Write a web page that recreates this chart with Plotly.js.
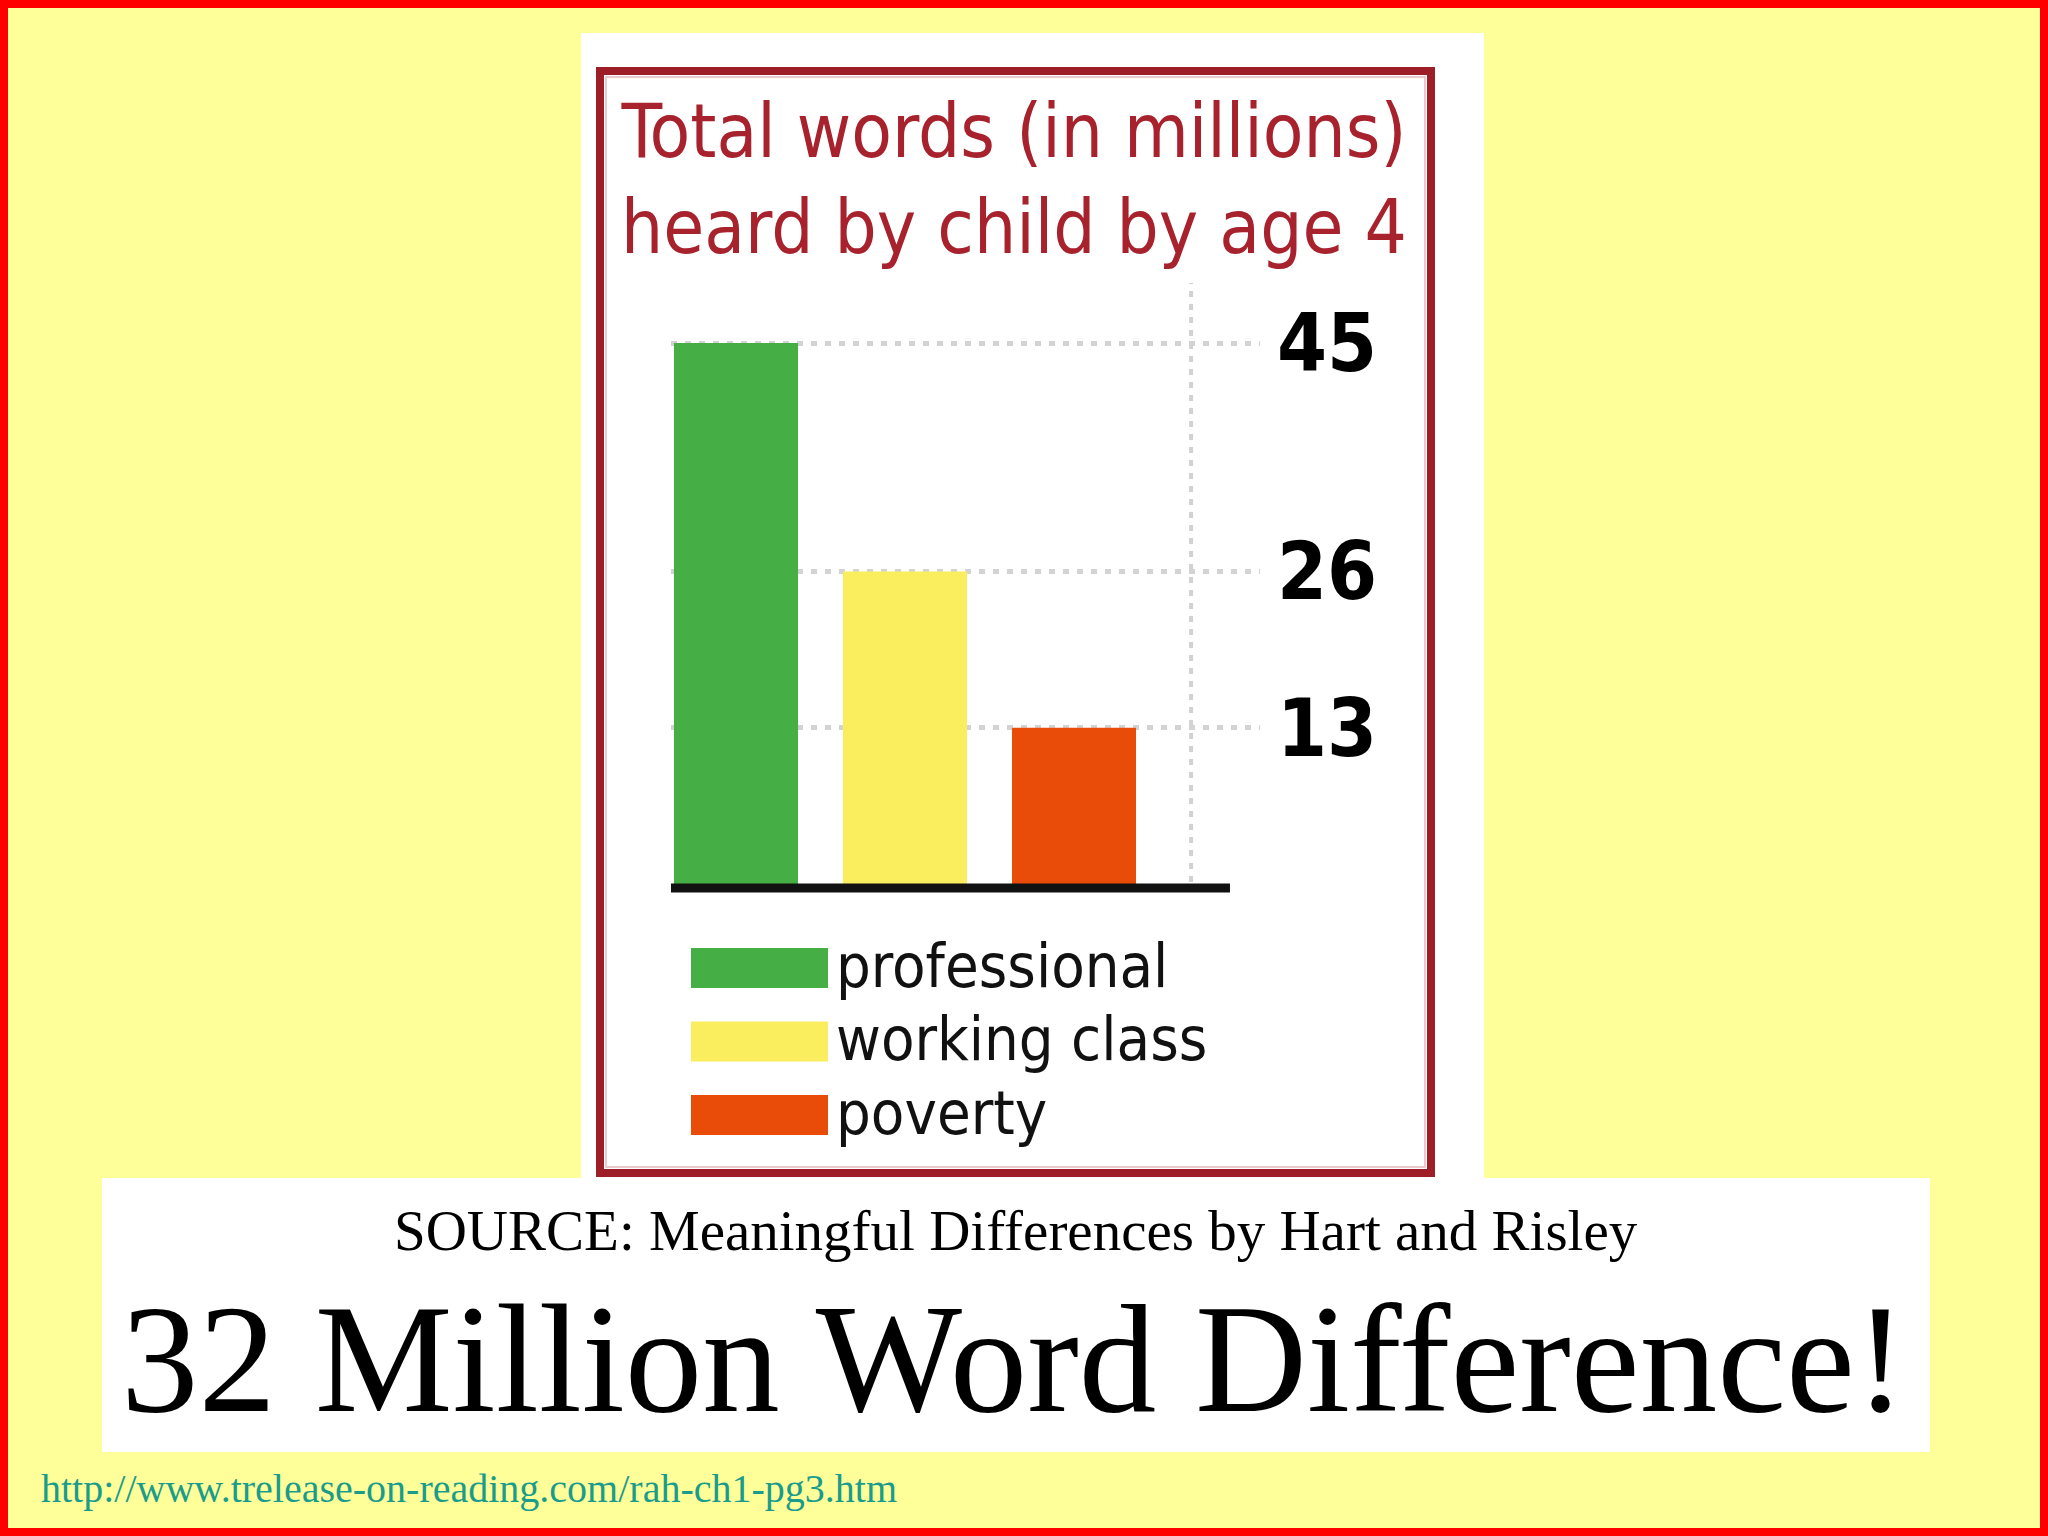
<!DOCTYPE html>
<html>
<head>
<meta charset="utf-8">
<script src="https://cdn.plot.ly/plotly-3.0.1.min.js"></script>
<style>html,body{margin:0;padding:0;background:#fff;}#chart{width:2048px;height:1536px;}</style>
</head>
<body>
<div id="chart"></div>
<script>
// ---- data ----
const categories = ['professional', 'working class', 'poverty'];
const words = [45, 26, 13];
const tickValues = [13, 26, 45];
const tickLabels = ['13', '26', '45'];
const chartTitle = 'Total words (in millions)<br>heard by child by age 4';
const sourceText = 'SOURCE: Meaningful Differences by Hart and Risley';
const headline = '32 Million Word Difference!';
const urlText = 'http://www.trelease-on-reading.com/rah-ch1-pg3.htm';

// ---- styles ----
const barColors = ['#45AF45', '#FAEE5E', '#E84C08'];
const W = 2048, H = 1536;
const X = px => px / W;
const Y = py => 1 - py / H;
const sansC = 'DejaVu Sans Condensed, Liberation Sans Narrow, DejaVu Sans, sans-serif';
const serif = 'Liberation Serif, Times New Roman, serif';

const shapes = [
  // yellow field inside red border
  {type:'rect', xref:'paper', yref:'paper', x0:X(8), x1:X(2040), y0:Y(1528), y1:Y(8),
   fillcolor:'#FFFF99', line:{width:0}, layer:'below'},
  // white panel behind chart
  {type:'rect', xref:'paper', yref:'paper', x0:X(581), x1:X(1484), y0:Y(1178), y1:Y(33),
   fillcolor:'#FFFFFF', line:{width:0}, layer:'below'},
  // white panel behind captions
  {type:'rect', xref:'paper', yref:'paper', x0:X(102), x1:X(1930), y0:Y(1452), y1:Y(1178),
   fillcolor:'#FFFFFF', line:{width:0}, layer:'below'},
  // dark red frame
  {type:'rect', xref:'paper', yref:'paper', x0:X(600), x1:X(1431), y0:Y(1173), y1:Y(71),
   fillcolor:'rgba(0,0,0,0)', line:{width:8, color:'#9E1E28'}, layer:'above'},
  {type:'rect', xref:'paper', yref:'paper', x0:X(606), x1:X(1425), y0:Y(1167), y1:Y(77),
   fillcolor:'rgba(0,0,0,0)', line:{width:2, color:'#EBC9CC'}, layer:'above'},
  // vertical dotted line
  {type:'line', xref:'x domain', yref:'paper', x0:0.883, x1:0.883, y0:Y(882), y1:Y(283),
   line:{width:4, color:'#D2D2D2', dash:'6px,7px'}, layer:'above'},
  // baseline
  {type:'line', xref:'x domain', yref:'paper', x0:0, x1:0.949, y0:Y(888), y1:Y(888),
   line:{width:9, color:'#111111'}, layer:'above'}
];

const annotations = [
  {text: sourceText, xref:'paper', yref:'paper', x:X(1016), y:Y(1230), xanchor:'center', yanchor:'middle',
   showarrow:false, font:{family:serif, size:57, color:'#000000'}},
  {text: headline, xref:'paper', yref:'paper', x:X(1013), y:Y(1359), xanchor:'center', yanchor:'middle',
   showarrow:false, font:{family:serif, size:155, color:'#000000'}},
  {text: urlText, xref:'paper', yref:'paper', x:X(39), y:Y(1488), xanchor:'left', yanchor:'middle',
   showarrow:false, font:{family:serif, size:40, color:'#1A9C8C'}}
];

// custom legend built from the category list
const legendTop = 968, legendStep = 73.5;
categories.forEach((c, i) => {
  const cy = legendTop + i * legendStep;
  shapes.push({type:'rect', xref:'paper', yref:'paper', x0:X(691), x1:X(828), y0:Y(cy + 20), y1:Y(cy - 20),
    fillcolor: barColors[i], line:{width:0}, layer:'above'});
  annotations.push({text: c, xref:'paper', yref:'paper', x:X(834), y:Y(cy - 3), xanchor:'left', yanchor:'middle',
    showarrow:false, font:{family:sansC, size:61, color:'#111111'}});
});

const trace = {
  type:'bar', x: categories, y: words,
  marker:{color: barColors, line:{width:0}},
  hoverinfo:'x+y', showlegend:false
};

const layout = {
  width: W, height: H,
  margin:{l:0, r:0, t:0, b:0},
  paper_bgcolor:'#FF0000',
  plot_bgcolor:'#FFFFFF',
  title:{text: chartTitle, x: X(1014), xanchor:'center', xref:'paper', y: Y(157), yanchor:'top', yref:'paper',
    font:{family: sansC, size:74, color:'#A8222E'}},
  bargap: 0.266,
  xaxis:{domain:[X(671), X(1260)], range:[-0.3846, 3.1006], showgrid:false, zeroline:false,
    showticklabels:false, showline:false, ticks:''},
  yaxis:{domain:[Y(884), Y(283)], range:[0, 50], side:'right', tickvals: tickValues, ticktext: tickLabels,
    showgrid:true, gridcolor:'#D3D3D3', gridwidth:5, griddash:'6px,8px', zeroline:false, showline:false,
    ticks:'', ticklabelstandoff:16,
    tickfont:{family: sansC, size:80, color:'#000000', weight:'bold'}},
  shapes: shapes,
  annotations: annotations
};

Plotly.newPlot('chart', [trace], layout, {staticPlot:true, displayModeBar:false});
</script>
</body>
</html>
